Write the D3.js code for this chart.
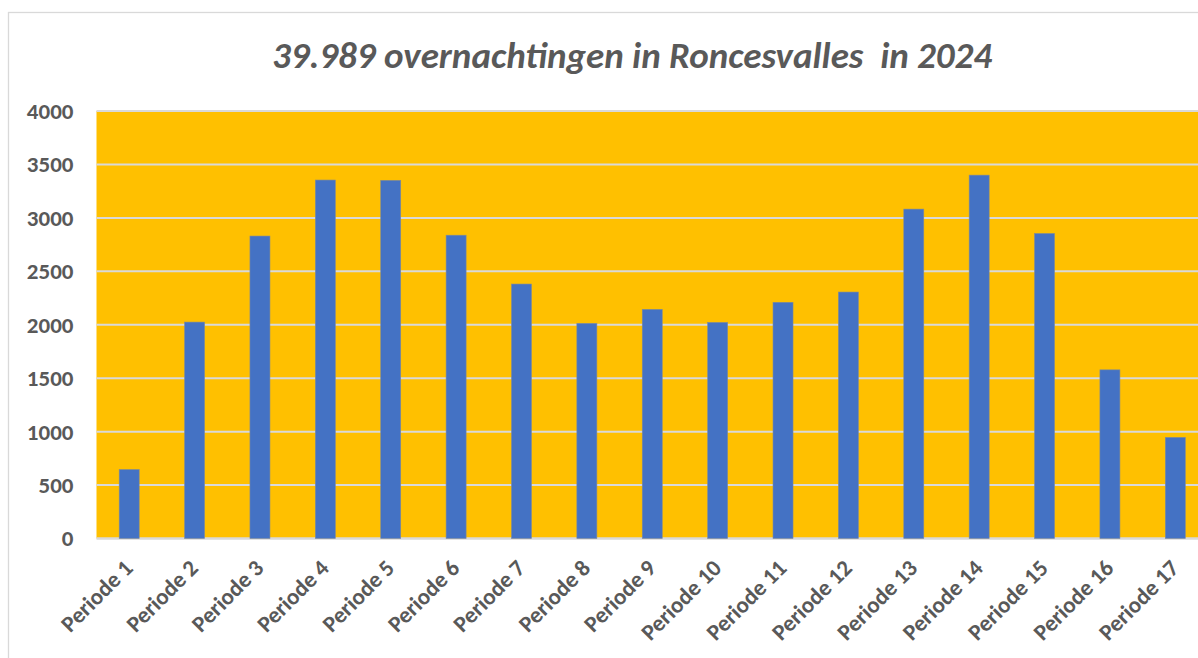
<!DOCTYPE html>
<html>
<head>
<meta charset="utf-8">
<script src="https://cdn.jsdelivr.net/npm/d3@7"></script>
<style>
  html, body { margin: 0; padding: 0; background: #fff; overflow: hidden; }
  svg { display: block; font-family: Carlito, "Open Sans", "Liberation Sans", sans-serif; }
</style>
</head>
<body>
<svg id="chart" width="1198" height="658"></svg>
<script>
let periods = ["Periode 1", "Periode 2", "Periode 3", "Periode 4", "Periode 5", "Periode 6",
  "Periode 7", "Periode 8", "Periode 9", "Periode 10", "Periode 11", "Periode 12",
  "Periode 13", "Periode 14", "Periode 15", "Periode 16", "Periode 17"];
let nights = [645, 2025, 2830, 3354, 3351, 2838, 2381, 2013, 2144, 2022, 2210, 2306,
  3082, 3400, 2854, 1578, 946];
let yTicks = [0, 500, 1000, 1500, 2000, 2500, 3000, 3500, 4000];
let title = "39.989 overnachtingen in Roncesvalles  in 2024";

let svg = d3.select("#chart"),
    margin = { top: 111, left: 96.5, bottom: 120 },
    plotRight = 1208,
    height = 538.5 - margin.top;

// outer chart border
svg.append("rect")
    .attr("x", 8.5).attr("y", 12.5)
    .attr("width", 1300).attr("height", 700)
    .attr("fill", "#fff")
    .attr("stroke", "#d9d9d9")
    .attr("stroke-width", 1.3);

svg.append("text")
    .attr("x", 632)
    .attr("y", 68)
    .attr("text-anchor", "middle")
    .attr("font-size", 37)
    .attr("font-weight", "bold")
    .attr("font-style", "italic")
    .attr("fill", "#595959")
    .style("white-space", "pre")
    .text(title);

let g = svg.append("g").attr("transform", "translate(" + margin.left + "," + margin.top + ")");

let x = d3.scaleBand()
    .domain(periods)
    .range([0, plotRight - margin.left])
    .paddingInner(0.694)
    .paddingOuter(0.347);

let y = d3.scaleLinear()
    .domain([0, 4000])
    .range([height, 0]);

g.append("rect")
    .attr("width", plotRight - margin.left)
    .attr("height", height)
    .attr("fill", "#ffc000");

g.append("g")
    .selectAll("line")
    .data(yTicks)
    .enter().append("line")
      .attr("x1", 0)
      .attr("x2", plotRight - margin.left)
      .attr("y1", function(d) { return y(d); })
      .attr("y2", function(d) { return y(d); })
      .attr("stroke", "#d9d9d9")
      .attr("stroke-width", function(d) { return d === 0 ? 2.5 : 2; });

g.append("g")
    .selectAll("rect")
    .data(nights)
    .enter().append("rect")
      .attr("x", function(d, i) { return x(periods[i]); })
      .attr("y", function(d) { return y(d); })
      .attr("width", x.bandwidth())
      .attr("height", function(d) { return height - y(d); })
      .attr("fill", "#4472c4")
      .attr("stroke", "#7f8a9a")
      .attr("stroke-width", 0.6);

let yAxis = g.append("g")
    .attr("transform", "translate(-23,0)")
    .call(d3.axisLeft(y).tickValues(yTicks).tickFormat(d3.format("d")).tickSize(0).tickPadding(0));
yAxis.select(".domain").remove();
yAxis.selectAll("text")
    .attr("font-family", "Carlito, 'Open Sans', 'Liberation Sans', sans-serif")
    .attr("font-size", 23)
    .attr("font-weight", "bold")
    .attr("fill", "#595959");

let xAxis = g.append("g")
    .attr("transform", "translate(0," + height + ")")
    .call(d3.axisBottom(x).tickSize(0).tickPadding(0));
xAxis.select(".domain").remove();
xAxis.selectAll("text")
    .attr("font-family", "Carlito, 'Open Sans', 'Liberation Sans', sans-serif")
    .attr("font-size", 23)
    .attr("font-weight", "bold")
    .attr("fill", "#595959")
    .attr("text-anchor", "end")
    .attr("dy", 0)
    .attr("y", 0)
    .attr("transform", "translate(5,31) rotate(-45)");
</script>
</body>
</html>
